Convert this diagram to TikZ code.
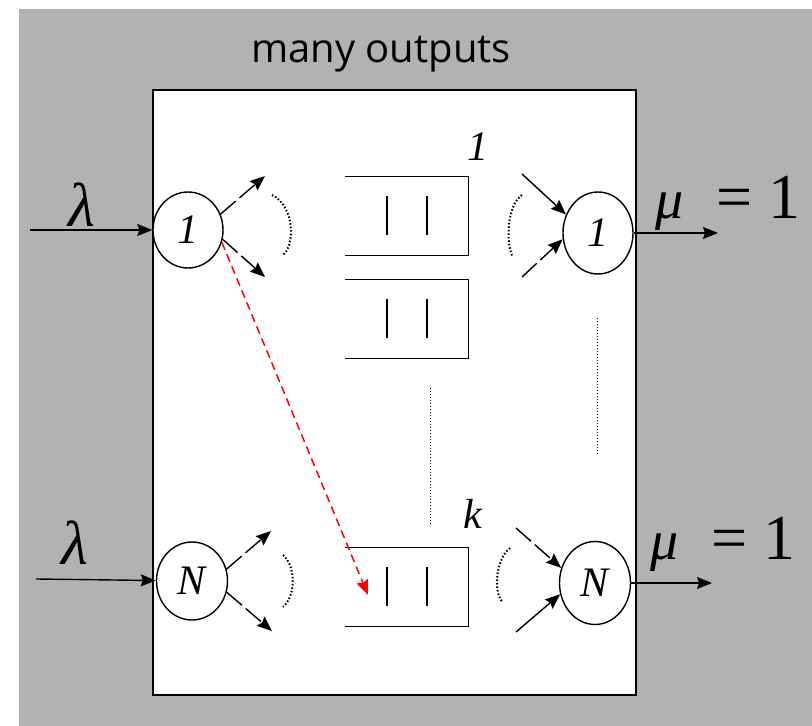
\documentclass[tikz,border=0pt]{standalone}
\usepackage{fontspec}
\setmainfont{Liberation Serif}
\newfontfamily\headfont{Open Sans}
\usetikzlibrary{arrows.meta,positioning,calc,shapes.geometric}
\definecolor{bggray}{RGB}{178,178,178}

\begin{document}
\begin{tikzpicture}[>={Stealth[length=15pt,width=12pt,inset=2pt]},x=1pt,y=1pt,line width=1.4pt,
 srv/.style={draw,ellipse,inner sep=0pt,fill=white,font=\fontsize{42}{42}\selectfont\itshape},
 que/.style={inner sep=0pt,minimum width=122pt,minimum height=78pt},
 lab/.style={inner sep=0pt,font=\fontsize{42}{42}\selectfont\itshape},
 rate/.style={inner sep=0pt,anchor=base west,font=\fontsize{56}{56}\selectfont},
 fan/.style={->,dash pattern=on 20pt off 5pt},
 arcdots/.style={line width=2pt,dash pattern=on 1.5pt off 2pt}]
\useasboundingbox (0,0) rectangle (812,726);
\fill[bggray] (19,0) rectangle (812,717);
\node[draw,fill=white,line width=2pt,minimum width=483pt,minimum height=605pt] (sys) at (394.5,333.5) {};
\node[font=\headfont\fontsize{40}{40}\selectfont,anchor=base] (head) at (381,663) {many outputs};
% servers
\node[srv,minimum width=70pt,minimum height=76pt] (in1) at (188,496) {1};
\node[srv,minimum width=71pt,minimum height=78pt] (inN) at (192,145) {N};
\node[srv,minimum width=70pt,minimum height=82pt] (out1) at (598,493) {1};
\node[srv,minimum width=71pt,minimum height=83pt] (outN) at (595,143) {N};
% queues
\node[que] (q1) at (407,510) {};
\node[que] (q2) at (407,407) {};
\node[que] (qk) at (407,139) {};
\draw (q1.north west) -- (q1.north east) -- (q1.south east) -- (q1.south west);
\draw ([xshift=-20pt,yshift=-19pt]q1.center) -- ++(0,39);
\draw ([xshift=20pt,yshift=-19pt]q1.center) -- ++(0,39);
\draw (q2.north west) -- (q2.north east) -- (q2.south east) -- (q2.south west);
\draw ([xshift=-20pt,yshift=-19pt]q2.center) -- ++(0,39);
\draw ([xshift=20pt,yshift=-19pt]q2.center) -- ++(0,39);
\draw (qk.north west) -- (qk.north east) -- (qk.south east) -- (qk.south west);
\draw ([xshift=-20pt,yshift=-19pt]qk.center) -- ++(0,39);
\draw ([xshift=20pt,yshift=-19pt]qk.center) -- ++(0,39);
\node[lab] (n1) at (478,579) {1};
\node[lab] (nk) at (473,212) {k};
\draw[line width=1pt,dotted] (430,338) -- (430,201);
\draw[line width=1pt,dotted] (597,408) -- (597,271);
% arrivals and departures
\coordinate (src1) at (30,496);
\coordinate (srcN) at (36,147);
\coordinate (snk1) at (718,493);
\coordinate (snkN) at (712,143);
\draw[->] (src1) -- (in1);
\draw[->] (srcN) -- (inN);
\draw[->] (out1) -- (snk1);
\draw[->] (outN) -- (snkN);
\node[font=\fontsize{62}{62}\selectfont\itshape] (lam1) at (82,521) {λ};
\node[font=\fontsize{62}{62}\selectfont\itshape] (lamN) at (75,183) {λ};
\node[rate] (mu1) at (655,507) {\textit{μ}\hspace{33pt}{\fontsize{64}{64}\selectfont = 1}};
\node[rate] (muN) at (650,166) {\textit{μ}\hspace{33pt}{\fontsize{64}{64}\selectfont = 1}};
% fan out / fan in
\coordinate (f1a) at (265,550);
\coordinate (f1b) at (265,449);
\coordinate (fNa) at (271,195);
\coordinate (fNb) at (272,95);
\coordinate (g1a) at (522,552);
\coordinate (g1b) at (522,449);
\coordinate (gNa) at (516,198);
\coordinate (gNb) at (516,94);
\draw[fan] (in1.26) -- (f1a);
\draw[fan] (in1.-15) -- (f1b);
\draw[fan] (inN.19) -- (fNa);
\draw[fan] (inN.-18) -- (fNb);
\draw[->] (g1a) -- (out1.150);
\draw[fan] (g1b) -- (out1.190);
\draw[fan] (gNa) -- (outN.156);
\draw[->] (gNb) -- (outN.198);
\draw[arcdots] (272,531) .. controls (295,520) and (295,480) .. (283,471);
\draw[arcdots] (283,171) .. controls (296,160) and (296,130) .. (283,119);
\draw[arcdots] (522,531) .. controls (506,520) and (506,480) .. (513,469);
\draw[arcdots] (510,178) .. controls (494,165) and (494,130) .. (503,124);
% routing
\coordinate (rtip) at (368,131);
\draw[->,red,line width=1.5pt,dash pattern=on 8pt off 5pt] (in1.-20) -- (rtip);
\end{tikzpicture}
\end{document}
